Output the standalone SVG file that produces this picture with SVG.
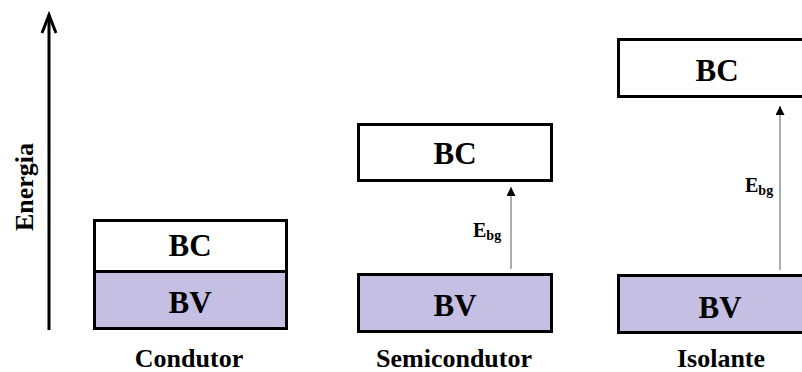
<svg xmlns="http://www.w3.org/2000/svg" width="802" height="372" viewBox="0 0 802 372">
  <style>
    .band { stroke: #000; stroke-width: 3; }
    .bc { fill: #ffffff; }
    .bv { fill: #c6bfe4; }
    .t { font-family: "Liberation Serif", "Times New Roman", serif; font-weight: bold; fill: #000; text-anchor: middle; }
    .band-label { font-size: 31px; }
    .caption { font-size: 26px; }
    .gap { font-size: 20px; text-anchor: start; }
    .gap-sub { font-size: 14px; }
    .gap-arrow { stroke: #777; stroke-width: 1.2; fill: none; }
  </style>
  <defs>
    <marker id="tip" viewBox="0 0 10 10" refX="10" refY="5" markerWidth="9" markerHeight="9" markerUnits="userSpaceOnUse" orient="auto">
      <path d="M0,0 L10,5 L0,10 Z" fill="#000"/>
    </marker>
  </defs>

  <rect width="802" height="372" fill="#ffffff"/>

  <!-- energy axis -->
  <g id="axis">
    <line x1="49" y1="330" x2="49" y2="15" stroke="#000" stroke-width="3"/>
    <polyline points="42,33 49,15 56,33" fill="none" stroke="#000" stroke-width="3" stroke-linejoin="miter"/>
    <text class="t caption" transform="translate(33,187) rotate(-90)">Energia</text>
  </g>

  <!-- conductor: overlapping bands -->
  <g id="condutor">
    <rect class="band bc" x="94.5" y="220.5" width="192" height="51"/>
    <rect class="band bv" x="94.5" y="271.5" width="192" height="57"/>
    <text class="t band-label" x="190" y="256">BC</text>
    <text class="t band-label" x="190" y="313">BV</text>
    <text class="t caption" x="189" y="367">Condutor</text>
  </g>

  <!-- semiconductor: small gap -->
  <g id="semicondutor">
    <rect class="band bc" x="358.5" y="124.5" width="193" height="56"/>
    <rect class="band bv" x="358.5" y="274.5" width="193" height="57"/>
    <text class="t band-label" x="455" y="164">BC</text>
    <text class="t band-label" x="455" y="316">BV</text>
    <text class="t caption" x="454" y="367">Semicondutor</text>
    <text class="t gap" x="473" y="237">E<tspan class="gap-sub" dy="3">bg</tspan></text>
  </g>

  <!-- insulator: wide gap -->
  <g id="isolante">
    <rect class="band bc" x="618.5" y="39.5" width="200" height="57"/>
    <rect class="band bv" x="618.5" y="275.5" width="200" height="57"/>
    <text class="t band-label" x="717" y="81">BC</text>
    <text class="t band-label" x="720" y="318">BV</text>
    <text class="t caption" x="721" y="367">Isolante</text>
    <text class="t gap" x="745" y="192">E<tspan class="gap-sub" dy="3">bg</tspan></text>
  </g>

  <!-- band-gap arrows -->
  <g id="connectors">
    <line class="gap-arrow" x1="511" y1="269" x2="511" y2="187" marker-end="url(#tip)"/>
    <line class="gap-arrow" x1="780" y1="270" x2="780" y2="106" marker-end="url(#tip)"/>
  </g>
</svg>
